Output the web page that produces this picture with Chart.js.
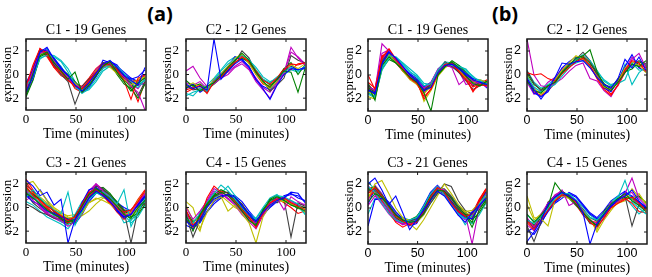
<!DOCTYPE html>
<html><head><meta charset="utf-8">
<script src="https://cdn.jsdelivr.net/npm/chart.js@4/dist/chart.umd.min.js"></script>
<style>
body{margin:0;background:#fff;width:652px;height:277px;overflow:hidden;position:relative;}
canvas{position:absolute;}
.lab{position:absolute;font:bold 20px "Open Sans",sans-serif;line-height:1;transform:translate(-50%,-50%);color:#000;}
</style></head><body>
<div class="lab" style="left:160px;top:14px">(a)</div>
<div class="lab" style="left:505px;top:14px">(b)</div>
<script>
// time points (minutes)
const times = [0,7,14,21,28,35,42,49,56,63,70,77,84,91,98,105,112,119];
const xTickValues = [0,50,100];
const yTickValues = [-2,0,2];
const panelTitles = ['C1 - 19 Genes','C2 - 12 Genes','C3 - 21 Genes','C4 - 15 Genes'];
const lineColors = ['#0000ff','#008000','#ff0000','#00bfbf','#bf00bf','#bfbf00','#404040'];

// (a) cluster C1 - 19 genes
const a_C1 = [
[-1.5,-0.2,1.9,2.3,1.3,0.5,-0.1,-0.9,-1.4,-0.7,0.1,0.9,1.2,0.6,-0.1,-0.5,-0.9,0.6],
[-1.8,0.1,1.6,1.9,1.0,0.3,-0.4,0.2,-1.5,-0.9,-0.1,0.7,1.1,0.2,-0.6,-1.4,-0.7,-0.3],
[-1.0,0.8,2.2,1.8,0.6,0.2,-0.5,-1.0,-1.2,-0.5,0.2,0.9,0.8,0.4,-0.5,-2.1,-0.3,0.0],
[-0.9,-0.3,1.4,1.6,1.5,1.1,0.2,-0.9,-1.6,-1.2,-0.4,0.5,0.8,0.7,0.1,-0.6,-0.8,-0.5],
[-1.2,0.3,1.8,2.0,1.1,0.4,-0.3,-0.9,-1.1,-0.6,0.1,0.6,1.0,0.3,-0.2,-1.0,-1.5,-3.0],
[-1.6,-0.2,1.7,1.9,1.2,0.2,-0.2,-0.7,-1.3,-0.9,0.3,0.8,0.6,0.1,-0.4,-0.9,-0.4,-0.2],
[-1.4,0.0,2.0,1.7,0.8,0.0,-0.6,-2.5,-1.0,-0.4,0.2,1.0,0.9,0.5,-0.3,-0.7,-1.8,-0.6],
[-0.7,0.4,2.1,2.0,1.4,0.6,-0.1,-0.7,-1.3,-1.0,-0.2,0.8,1.1,0.8,0.0,-0.4,-0.2,0.4],
[-1.9,-0.5,1.5,1.8,1.0,0.5,0.0,-0.6,-1.2,-0.7,0.2,0.9,0.9,0.0,-0.8,-1.2,-2.0,-0.8],
[-1.3,0.5,2.2,1.6,0.7,0.3,-0.2,-1.2,-1.5,-0.8,-0.1,0.7,1.0,0.6,-0.1,-0.6,-0.5,-0.1],
[-1.1,-0.1,1.6,2.1,1.3,0.7,-0.3,-1.1,-1.4,-1.0,0.0,0.6,0.7,0.4,-0.2,-0.8,-1.1,-0.4],
[-0.8,0.2,1.9,1.9,0.9,0.1,-0.4,-0.8,-1.2,-0.6,0.4,1.0,0.8,0.2,-0.4,-0.5,-0.9,-0.7],
[-1.5,0.0,1.8,2.0,1.1,0.2,-0.3,-1.0,-1.1,-0.7,0.0,0.6,0.9,0.5,-0.3,-1.0,-0.6,-0.3],
[-1.2,0.3,2.0,1.9,1.0,0.3,-0.2,-0.9,-1.3,-0.5,0.3,0.8,1.0,0.4,-0.1,-0.7,-0.8,-0.2],
[-1.7,-0.4,1.7,2.2,1.2,0.4,-0.1,-1.0,-1.5,-1.1,-0.1,1.2,1.0,0.7,0.2,-0.3,-0.6,0.0],
[-1.0,0.1,1.8,1.7,0.8,0.2,-0.5,-0.9,-1.4,-0.8,0.1,0.7,0.8,0.3,-0.4,-1.1,-0.9,-0.5],
[-1.4,0.6,2.1,1.5,0.6,-0.1,-0.4,-0.8,-1.0,-0.3,0.5,1.0,0.7,0.1,-0.5,-0.9,-2.3,-0.6],
[-0.6,-0.2,1.3,1.7,1.6,1.2,0.5,-0.6,-1.5,-1.3,-0.6,0.3,0.7,0.5,0.0,-0.4,-0.7,-0.9],
[-1.3,0.4,2.0,1.8,1.0,0.3,-0.3,-1.0,-1.2,-0.7,0.2,0.8,0.9,0.3,-0.2,-0.8,-1.2,-0.4]
];
// (a) cluster C2 - 12 genes
const a_C2 = [
[-0.8,-1.2,-1.0,-1.3,3.0,-0.4,0.3,0.9,1.3,0.7,-0.4,-1.2,-2.1,-0.9,0.0,0.5,0.4,0.6],
[-1.1,-0.9,-1.4,-1.0,-0.7,-0.1,0.6,1.2,1.8,1.2,0.2,-0.6,-1.1,-0.4,0.3,0.2,-1.5,0.5],
[-1.5,-1.2,-0.9,-1.6,-0.6,-0.2,0.5,1.0,1.5,1.1,0.3,-0.5,-0.8,-0.3,0.4,0.9,0.8,1.0],
[-1.6,-1.8,-1.2,-1.4,-0.5,0.3,0.9,1.3,1.6,1.3,0.4,-0.4,-0.7,-0.2,0.2,0.6,0.3,0.7],
[0.3,0.7,-0.3,-1.0,-0.8,-0.3,0.0,0.6,0.9,0.4,-0.6,-1.3,-2.0,-0.8,0.1,2.3,1.4,0.8],
[-1.0,-0.7,-1.1,-1.2,-0.4,0.1,0.7,1.4,1.7,0.9,0.0,-0.7,-1.2,-0.6,0.0,0.8,0.5,0.9],
[-0.9,-1.3,-1.2,-1.5,-0.6,-0.2,0.4,1.1,2.0,1.4,0.1,-0.5,-1.4,-0.9,-0.3,1.6,1.2,1.0],
[-1.2,-0.8,-1.5,-1.1,-0.5,0.0,0.7,1.5,1.2,0.6,-0.5,-1.0,-1.3,-0.6,0.3,0.7,0.4,0.5],
[-0.5,-1.0,-0.8,-1.3,-0.8,-0.3,0.3,1.0,1.4,1.0,0.3,-0.4,-0.9,-0.5,0.5,1.0,0.0,0.8],
[-1.3,-1.1,-1.0,-1.4,-0.4,0.0,0.6,1.2,1.6,1.0,0.0,-0.8,-1.0,-0.3,0.5,0.4,0.9,1.0],
[-1.8,-1.5,-1.3,-0.9,-0.3,0.4,1.1,1.5,1.3,1.2,0.6,-0.2,-0.6,-0.4,0.0,0.4,0.2,0.6],
[-0.7,-0.9,-0.6,-1.2,-0.7,-0.1,0.2,0.7,1.1,0.5,-0.3,-1.1,-1.5,-0.7,0.1,1.9,1.5,0.9]
];
// (a) cluster C3 - 21 genes
const a_C3 = [
[2.3,1.8,1.0,1.3,0.2,0.7,-3.0,-1.0,-0.2,0.8,1.4,1.0,0.5,-0.2,-0.8,-0.6,0.2,0.9],
[1.2,0.8,0.3,-0.2,-0.6,-0.9,-1.2,-1.0,0.1,1.1,1.6,1.2,0.7,0.1,-0.6,-0.9,0.0,0.6],
[1.8,1.0,0.6,0.1,-0.3,-0.7,-1.1,-0.8,0.3,1.3,1.5,1.0,0.4,-0.1,-0.4,-0.2,0.5,1.4],
[0.9,1.5,0.8,0.2,-0.2,-0.5,1.3,-1.5,-0.3,0.7,1.2,1.3,0.9,0.3,1.5,-1.6,-0.4,0.8],
[1.5,0.6,0.1,-0.5,-0.8,-1.1,-1.6,-1.2,-0.1,1.0,2.0,1.4,0.6,-0.1,-0.7,-0.5,0.4,1.2],
[2.0,2.2,1.4,0.6,0.0,-0.4,-0.8,-0.9,-0.5,0.4,0.8,0.6,0.3,-0.2,-0.6,-0.4,0.6,1.3],
[0.3,0.0,-0.4,-0.6,-0.9,-1.0,-1.2,-0.7,0.2,1.2,1.8,1.6,1.0,0.3,-0.3,-3.0,-0.2,0.4],
[1.0,0.5,0.2,-0.3,-0.5,-0.8,-1.0,-1.1,0.4,1.5,1.7,1.2,0.5,-0.3,-0.9,-0.6,0.3,1.0],
[1.6,1.1,0.7,0.2,-0.3,-0.7,-1.0,-1.3,-0.4,0.8,1.3,1.5,1.1,0.5,-0.2,-0.8,-0.5,0.7],
[2.1,1.3,0.5,-0.1,-0.5,-0.9,-1.3,-1.0,0.0,1.0,1.4,1.1,0.4,-0.4,-1.0,-0.3,0.7,1.5],
[1.4,0.9,0.4,-0.2,-0.7,-1.2,-1.5,-0.6,0.5,1.1,1.3,0.9,0.5,-0.1,-1.3,-1.1,-0.3,0.5],
[0.6,1.0,0.2,-0.4,-0.6,-0.9,-1.1,-0.9,0.2,1.4,1.9,1.3,0.7,0.0,-0.5,-0.2,0.5,1.1],
[1.7,1.2,0.9,0.4,-0.1,-0.6,-0.9,-0.8,-0.7,-0.3,0.3,0.8,0.7,0.2,-0.3,-0.7,0.0,0.4],
[1.9,1.4,0.8,0.2,-0.3,-0.8,-1.0,-1.2,-0.2,0.9,1.6,1.4,0.8,0.2,-0.4,-0.5,0.2,0.9],
[1.1,0.7,1.5,0.6,-0.4,-0.8,-0.9,-1.4,-0.6,0.5,1.2,1.1,0.9,0.4,0.0,-0.3,0.1,0.6],
[1.3,0.9,0.3,-0.1,-0.5,-1.0,-1.4,-1.2,-0.3,0.7,1.5,1.7,1.2,0.4,-0.5,-1.0,-0.6,0.3],
[2.4,1.5,0.7,0.0,-0.6,-1.0,-1.3,-0.9,0.1,1.2,1.7,1.0,0.3,-0.3,-0.8,-0.4,0.4,1.2],
[0.5,0.2,-0.3,-0.8,-1.1,-1.4,-1.8,-1.0,0.0,0.9,1.3,1.0,0.6,0.0,-0.6,-1.3,-0.8,0.2],
[1.0,1.2,0.0,-0.6,-0.9,-1.2,-1.3,-0.8,0.3,1.4,2.0,1.5,0.8,0.1,-0.5,-0.6,0.3,1.0],
[1.5,1.0,0.6,0.3,-0.2,-0.5,-0.7,-0.6,-0.1,0.4,0.7,0.9,0.6,0.0,-0.6,-0.9,-0.2,0.5],
[1.2,0.4,-0.1,-0.5,-0.8,-1.1,-1.0,-0.7,0.1,1.1,1.5,1.3,0.9,0.4,-0.2,-0.3,0.2,0.8]
];
// (a) cluster C4 - 15 genes
const a_C4 = [
[-1.2,-1.6,-1.0,0.0,0.7,1.0,1.1,0.9,0.1,-0.6,-1.2,-0.4,0.2,0.6,0.8,1.3,1.2,0.4],
[-0.6,-2.0,-0.6,0.3,1.0,1.3,1.0,0.4,-0.3,-1.1,-1.5,-0.2,0.6,0.9,0.6,0.2,0.0,-0.3],
[-0.2,-1.5,-0.9,0.8,1.8,1.3,1.0,0.5,-0.2,-0.8,-1.7,-0.5,0.4,0.7,0.8,0.4,0.1,-0.2],
[-0.9,-1.3,-0.5,0.4,1.2,1.9,1.4,0.7,0.0,-0.7,-1.0,-0.1,0.5,1.0,0.9,0.6,0.3,-0.6],
[0.0,-1.0,-0.3,0.5,1.4,1.1,0.8,0.3,-0.4,-1.0,-1.3,-0.6,0.3,0.8,-0.2,0.9,0.5,0.2],
[0.5,0.0,-1.8,-0.4,0.6,0.9,-0.3,0.2,-0.5,-1.3,-3.0,-0.8,0.2,0.6,0.5,0.3,0.0,-0.4],
[-0.7,-2.5,-1.1,0.1,0.9,1.2,1.3,0.8,0.3,-0.6,-1.4,-0.3,0.6,0.8,0.7,-2.5,0.4,0.1],
[-1.5,-1.8,-1.2,-0.3,0.5,0.9,1.0,0.8,0.2,-0.5,-1.1,-0.6,0.0,0.5,0.9,1.1,1.0,0.5],
[-0.3,-1.2,-0.7,0.2,1.1,1.5,1.2,0.6,-0.1,-0.9,-1.6,-0.3,0.7,1.0,0.6,0.3,-0.1,0.0],
[-0.8,-1.7,-0.8,0.1,0.9,1.4,1.2,0.6,-0.3,-1.0,-1.2,-0.2,0.5,0.8,0.4,0.0,-0.5,-0.3],
[-1.0,-1.4,-1.2,0.0,0.8,1.2,1.8,1.0,0.2,-0.5,-0.9,0.0,0.8,1.1,0.5,0.3,0.0,-0.5],
[-0.4,-1.9,-0.4,0.6,1.6,1.2,0.7,0.2,-0.6,-1.2,-1.8,-0.7,0.3,0.7,0.9,0.5,0.2,0.3],
[0.2,-1.1,-2.0,0.2,0.9,1.0,0.5,0.0,-0.3,-0.9,-1.4,-0.4,0.4,0.9,0.7,0.4,0.1,-0.1],
[-0.5,-1.3,-0.6,0.4,1.2,0.8,1.1,0.7,0.0,-0.8,-1.1,-0.5,0.7,0.4,0.8,0.6,0.2,0.0],
[-1.1,-1.5,-1.3,-0.4,0.3,0.8,1.1,1.0,0.5,-0.3,-1.0,-0.7,0.1,0.6,1.0,1.2,0.8,0.6]
];
// (b) cluster C1 - 19 genes
const b_C1 = [
[-1.2,-1.6,0.9,1.9,1.4,0.7,0.0,-0.5,-1.3,-1.0,0.2,0.8,0.9,0.5,0.0,-0.4,-0.6,-0.8],
[-0.9,-2.1,0.8,1.5,1.0,0.4,-0.2,-0.6,-1.5,-3.0,0.0,0.7,1.1,0.6,-0.1,-0.7,-0.9,-0.5],
[0.0,-1.2,1.4,2.2,1.3,0.5,-0.3,-0.7,-1.8,-1.2,0.1,0.9,1.0,0.3,-0.4,-1.3,-0.8,-0.9],
[-1.5,-1.8,0.6,1.6,1.5,0.9,0.3,-0.2,-0.9,-0.7,0.4,1.0,0.8,0.7,0.5,-0.2,-0.5,-0.7],
[-1.0,-1.3,2.6,2.0,1.2,0.6,-0.1,-0.5,-1.1,-0.6,0.5,0.9,0.6,-0.8,-0.3,-0.5,-0.7,-1.0],
[-1.8,-2.0,0.7,1.7,1.1,0.3,-0.4,-0.8,-1.6,-0.9,0.2,0.8,0.9,0.4,-0.3,-0.6,-0.4,-0.6],
[-0.8,-1.4,1.2,1.8,1.0,0.4,-0.2,-0.6,-1.2,-0.8,0.3,1.1,0.7,0.2,-0.5,-1.2,-0.9,-0.7],
[-1.3,-1.5,1.0,2.0,1.3,0.6,0.1,-0.3,-1.0,-0.6,0.4,0.9,1.0,0.6,0.1,-0.3,-0.5,-1.1],
[-0.7,-1.7,1.1,1.6,1.2,0.5,-0.1,-0.4,-1.3,-0.9,0.0,0.7,1.2,0.8,0.2,-0.4,-0.8,-0.6],
[-1.1,-1.3,1.5,2.1,1.0,0.3,-0.2,-0.6,-2.0,-1.1,0.3,0.9,0.8,0.3,-0.2,-1.0,-0.7,-0.4],
[-1.6,-1.9,0.4,1.4,1.5,1.0,0.5,0.0,-0.7,-0.8,0.2,1.0,0.9,0.8,0.4,-0.1,-0.6,-0.9],
[-1.0,-1.2,1.3,1.9,1.1,0.4,-0.3,-0.7,-1.4,-0.7,0.4,0.8,0.7,0.3,-0.3,-0.8,-0.6,-0.5],
[-1.4,-1.6,0.9,1.7,1.3,0.6,0.0,-0.4,-2.2,-1.3,-0.1,0.6,1.0,0.5,0.0,-0.5,-0.9,-0.7],
[-1.2,-1.5,1.0,1.8,1.1,0.4,-0.3,-0.5,-1.1,-0.8,0.2,0.9,0.8,0.4,-0.2,-0.9,-0.6,-0.8],
[-0.9,-1.4,1.3,2.0,1.2,0.5,0.0,-0.4,-1.2,-0.9,0.3,1.0,0.9,0.5,-0.1,-0.5,-0.7,-0.6],
[-1.5,-1.8,0.5,1.3,1.0,0.5,0.0,-0.5,-1.4,-1.0,0.1,0.7,0.9,0.6,0.0,-0.6,-0.8,-0.7],
[-0.6,-1.1,1.6,1.9,1.1,0.3,-0.2,-0.8,-1.5,-0.8,0.3,0.8,0.8,0.2,-0.3,-1.4,-0.5,-0.9],
[-1.3,-1.6,0.7,1.5,1.4,0.8,0.2,-0.1,-0.9,-0.7,0.5,1.1,1.0,0.6,0.3,-0.3,-0.4,-0.6],
[-1.1,-1.4,1.8,2.1,1.2,0.5,-0.2,-0.5,-1.3,-0.9,0.2,0.8,0.7,0.3,-0.8,-0.6,-0.7,-0.9]
];
// (b) cluster C2 - 12 genes
const b_C2 = [
[-0.3,-1.2,-2.0,-1.2,-0.2,1.0,0.9,1.1,1.2,0.6,-0.2,-0.8,-1.1,-0.3,1.3,0.6,1.5,0.4],
[-0.5,-1.3,-1.5,-0.9,-0.6,0.2,0.8,1.4,1.6,2.1,0.3,-0.9,-1.3,-0.6,0.2,0.9,0.7,1.2],
[0.2,0.0,0.1,-0.3,-0.5,0.1,0.6,1.1,1.4,0.8,-0.3,-1.2,-1.7,-0.8,0.4,1.2,1.0,0.3],
[-0.1,-1.0,-1.4,-1.1,-0.8,-0.1,0.6,1.3,1.7,1.2,0.4,-0.5,-0.9,-0.7,-0.4,1.0,0.4,0.5],
[3.0,0.0,-0.9,-1.0,-0.7,-0.3,0.3,0.8,1.0,-0.3,-0.5,-1.3,-1.8,-0.8,0.3,1.3,1.8,0.6],
[0.0,-1.1,-1.6,-1.2,-0.4,0.4,1.0,1.6,1.3,0.7,-0.1,-1.0,-1.2,-0.6,0.6,1.1,0.8,0.2],
[0.3,-0.7,-1.3,-1.0,-0.5,0.3,0.9,1.3,1.9,1.2,0.2,-0.8,-1.0,-0.4,0.5,0.8,1.2,0.9],
[-0.4,-1.5,-1.8,-1.4,-0.4,0.6,1.1,1.5,1.3,0.7,-0.1,-1.1,-1.4,-0.5,0.7,1.7,0.6,0.3],
[0.1,-0.8,-1.2,-0.9,-0.6,0.2,0.7,1.2,1.5,1.0,0.1,-0.7,-1.2,-0.3,0.3,0.5,1.1,0.8],
[-0.2,-1.4,-1.7,-1.3,-0.7,0.1,0.8,1.3,1.6,1.1,0.0,-1.0,-1.6,-0.9,0.2,1.1,0.9,0.6],
[0.4,-0.6,-1.1,-0.8,-0.3,0.3,0.7,1.0,1.2,0.9,0.3,-0.4,-0.8,-0.6,0.9,-0.8,0.2,0.7],
[-0.6,-1.6,-1.3,-0.6,-0.2,0.5,0.9,1.1,1.4,0.8,-0.2,-1.0,-1.3,-0.4,0.4,1.5,0.6,1.0]
];
// (b) cluster C3 - 21 genes
const b_C3 = [
[2.0,2.5,1.5,0.3,1.0,-0.4,-1.8,-1.0,-0.2,0.6,1.4,1.0,0.2,-0.6,-1.2,-0.4,0.2,0.8],
[0.5,1.2,0.9,0.2,-0.6,-1.0,-1.2,-1.1,-0.5,0.7,1.5,1.4,0.8,0.0,-0.5,-1.6,-0.2,0.7],
[1.2,1.7,1.0,0.1,-0.7,-1.1,-1.4,-1.2,-0.3,0.9,1.7,1.3,0.4,-0.3,-0.7,-0.5,0.5,1.5],
[1.8,1.3,0.4,-0.4,-1.0,-1.2,-1.0,-0.8,0.1,1.2,1.8,1.1,0.3,-0.5,-0.9,-0.6,0.3,1.1],
[0.2,1.0,0.5,-0.2,-0.9,-1.3,-1.3,-1.1,-0.5,0.6,1.6,1.5,0.7,0.0,-0.5,-3.0,0.0,1.2],
[0.8,2.0,2.3,1.2,0.0,-0.8,-1.3,-1.8,-1.0,0.0,1.0,2.0,1.2,0.3,-0.3,-0.2,0.4,1.0],
[1.4,1.6,0.9,0.1,-0.6,-1.0,-1.1,-0.9,-0.5,0.4,1.2,2.0,1.8,0.6,-0.2,-0.5,0.2,0.9],
[-1.5,0.7,0.8,0.3,-0.5,-1.0,-1.5,-1.3,-0.2,0.8,1.5,1.2,0.5,-0.3,-0.8,-0.9,0.1,1.3],
[1.5,1.8,1.1,0.3,-0.8,-1.2,-1.0,-0.7,0.0,1.0,1.7,1.4,0.6,-0.1,-0.6,-1.2,0.4,1.4],
[0.9,1.4,0.6,-0.3,-1.2,-1.6,-1.3,-1.1,-0.4,0.7,1.5,1.2,0.4,-0.3,-0.7,-0.9,0.6,1.6],
[2.2,1.5,0.8,-0.1,-0.8,-1.1,-1.2,-0.9,-0.1,1.0,1.6,1.3,0.5,-0.4,-1.4,-0.7,0.1,0.8],
[0.6,1.9,1.2,0.0,-1.0,-1.4,-1.2,-1.0,-0.2,1.1,1.8,1.2,0.3,-0.6,-1.0,-0.8,0.3,1.0],
[1.1,1.3,0.7,0.0,-0.7,-0.9,-1.0,-1.2,-0.6,0.5,1.3,1.1,0.6,0.0,-0.4,-0.6,0.2,0.9],
[1.7,1.2,0.6,-0.2,-0.9,-1.1,-1.2,-1.0,-0.3,0.8,1.4,1.5,0.9,0.1,-0.5,-0.7,0.0,0.6],
[0.3,1.6,1.0,0.5,-0.3,-0.9,-1.1,-0.8,0.2,1.3,1.9,1.3,0.4,-0.4,-0.9,-0.3,0.5,1.1],
[1.3,1.4,0.8,-0.1,-0.7,-1.1,-1.3,-1.0,-0.3,0.6,1.4,1.4,0.8,0.1,-0.3,-1.0,-0.4,0.5],
[1.6,1.8,0.9,0.0,-0.8,-1.2,-1.4,-1.0,-0.2,0.9,1.6,1.2,0.5,-0.2,-0.6,-0.5,0.7,1.6],
[-0.5,0.8,0.7,0.1,-0.6,-0.8,-1.0,-1.2,-0.6,0.4,1.2,1.3,0.9,0.2,-0.8,-1.3,-0.6,0.4],
[1.9,1.1,0.3,-0.5,-1.1,-1.3,-1.1,-0.9,0.0,1.2,1.7,1.1,0.4,-0.2,-0.7,-0.6,0.6,1.3],
[0.7,1.5,1.0,0.4,-0.4,-0.8,-1.1,-1.0,-0.4,0.6,1.5,1.3,0.7,0.0,-0.5,-0.6,0.3,1.1],
[1.0,1.3,0.6,-0.1,-0.7,-1.0,-1.2,-0.9,-0.1,0.9,1.6,1.6,1.0,0.2,-0.4,-0.7,0.1,0.8]
];
// (b) cluster C4 - 15 genes
const b_C4 = [
[-2.8,-2.0,-1.0,0.3,0.9,1.3,1.0,0.6,-0.4,-3.0,-1.3,-0.6,0.2,0.7,1.0,1.5,0.6,0.0],
[-0.5,-1.2,-0.6,0.1,2.1,1.3,0.9,0.3,-0.4,-1.0,-1.5,-0.5,0.3,0.8,1.2,0.6,0.2,-0.3],
[-1.2,-1.8,-1.0,-0.2,0.6,1.1,1.0,0.5,-0.3,-1.2,-1.6,-0.8,0.0,0.4,0.7,0.9,0.4,-0.2],
[-1.0,-1.3,-0.7,0.0,0.8,1.2,1.2,0.6,-0.2,-0.8,-1.0,-0.4,0.3,0.9,2.3,0.5,0.0,-0.5],
[-0.8,-1.6,-0.5,0.4,1.0,1.5,0.2,0.5,-0.5,-1.1,-1.3,-0.6,0.5,0.5,1.2,2.5,0.8,0.2],
[1.0,-0.8,-0.9,-1.5,0.7,1.0,0.8,0.4,-0.2,-0.9,-2.0,-1.0,-0.2,0.5,1.1,0.7,1.2,0.3],
[-1.5,-2.8,-1.2,0.5,1.0,1.3,1.1,0.6,-0.1,-0.8,-1.1,-0.3,0.4,0.8,1.0,-1.5,0.3,0.0],
[-1.8,-2.2,-1.3,-0.2,0.5,1.0,1.2,0.9,0.2,-0.5,-0.9,-0.5,0.1,0.7,1.3,1.0,0.5,0.1],
[-0.9,-1.4,-0.8,0.2,0.9,1.4,1.0,0.4,-0.5,-1.2,-1.4,-0.3,0.4,0.6,0.9,0.7,1.0,0.4],
[-1.1,-1.5,-0.7,0.1,0.7,1.2,0.9,0.3,-0.6,-1.1,-1.2,-0.6,0.2,0.5,0.8,0.4,-0.3,-0.4],
[-0.6,-1.1,-0.9,-0.1,0.6,1.0,1.1,0.7,0.1,-0.6,-1.0,-0.4,0.5,1.0,0.9,0.2,-0.5,0.0],
[-1.4,-1.9,-1.1,0.3,1.1,1.4,1.0,0.6,-0.2,-0.9,-1.5,-0.9,0.1,0.6,1.1,1.3,0.4,-0.2],
[0.3,-1.0,-0.5,0.2,0.8,1.1,0.9,0.4,-0.3,-1.0,-1.8,-0.7,0.0,0.4,0.6,1.6,0.9,0.5],
[-1.0,-1.7,-0.8,0.4,0.9,1.2,0.8,0.2,-0.4,-1.3,-1.4,-0.4,0.3,0.7,1.1,0.8,0.2,-0.1],
[-2.0,-1.6,-1.2,-0.3,0.4,0.8,1.3,1.0,0.3,-0.4,-0.8,-0.2,0.6,1.0,1.4,0.9,0.4,0.0]
];

Chart.defaults.color = '#000';
Chart.defaults.animation = false;

const framePlugin = {
  id: 'frame',
  afterDraw(chart) {
    const {ctx, chartArea: a, scales: {x, y}} = chart;
    ctx.save();
    ctx.strokeStyle = '#1a1a1a';
    ctx.lineWidth = 1.5;
    ctx.strokeRect(a.left, a.top, a.right - a.left, a.bottom - a.top);
    ctx.lineWidth = 1;
    ctx.beginPath();
    xTickValues.forEach(v => {
      const px = x.getPixelForValue(v);
      ctx.moveTo(px, a.bottom); ctx.lineTo(px, a.bottom - 3);
      ctx.moveTo(px, a.top); ctx.lineTo(px, a.top + 3);
    });
    yTickValues.forEach(v => {
      const py = y.getPixelForValue(v);
      ctx.moveTo(a.left, py); ctx.lineTo(a.left + 3, py);
      ctx.moveTo(a.right, py); ctx.lineTo(a.right - 3, py);
    });
    ctx.stroke();
    ctx.restore();
  }
};

const Y_AXIS_W = 26, TITLE_H = 20, X_AXIS_H = 33;
const SERIF = '"Liberation Serif", "Times New Roman", serif';
const SANS = '"Liberation Sans", Arial, sans-serif';

function makePanel(genes, title, rect, tickFamily, yPad) {
  const [L, T, R, B] = rect;
  const cv = document.createElement('canvas');
  const w = (R - L) + Y_AXIS_W + 4;
  const h = (B - T) + TITLE_H + X_AXIS_H;
  cv.width = w; cv.height = h;
  cv.style.left = (L - Y_AXIS_W) + 'px';
  cv.style.top = (T - TITLE_H) + 'px';
  cv.style.width = w + 'px'; cv.style.height = h + 'px';
  document.body.appendChild(cv);
  new Chart(cv, {
    type: 'line',
    data: {
      datasets: genes.map((g, i) => ({
        data: g.map((v, k) => ({x: times[k], y: v})),
        borderColor: lineColors[i % lineColors.length],
        borderWidth: 1.1,
        pointRadius: 0,
        tension: 0,
        fill: false
      }))
    },
    options: {
      responsive: false,
      animation: false,
      layout: {padding: {left: 0, right: 4, top: 0, bottom: 0}},
      plugins: {
        legend: {display: false},
        tooltip: {enabled: false},
        title: {display: true, text: title, color: '#000', fullSize: false,
          font: {family: SERIF, size: 14, weight: 'normal'},
          padding: {top: 2.6, bottom: 0.6}}
      },
      scales: {
        x: {
          type: 'linear', min: 0, max: 120,
          afterBuildTicks: s => { s.ticks = xTickValues.map(v => ({value: v})); },
          afterFit: s => { s.height = X_AXIS_H; },
          grid: {display: false, drawTicks: false},
          border: {display: false},
          ticks: {padding: 2, maxRotation: 0, autoSkip: false, color: '#000',
            font: {family: tickFamily, size: tickFamily === SANS ? 12.5 : 13}},
          title: {display: true, text: 'Time (minutes)', color: '#000',
            font: {family: SERIF, size: 14}, padding: {top: 0, bottom: 0}}
        },
        y: {
          type: 'linear', min: -3, max: 3,
          afterBuildTicks: s => { s.ticks = yTickValues.map(v => ({value: v})); },
          afterFit: s => { s.width = Y_AXIS_W; },
          grid: {display: false, drawTicks: false},
          border: {display: false},
          ticks: {padding: yPad, color: '#000',
            font: {family: tickFamily, size: tickFamily === SANS ? 12.5 : 13}},
          title: {display: true, text: 'expression', color: '#000',
            font: {family: SERIF, size: 13}, padding: {top: 0, bottom: 0}}
        }
      }
    },
    plugins: [framePlugin]
  });
}

makePanel(a_C1, panelTitles[0], [26, 39, 146, 110], SERIF, 7);
makePanel(a_C2, panelTitles[1], [186, 39, 306, 110], SERIF, 7);
makePanel(a_C3, panelTitles[2], [26, 172, 146, 243], SERIF, 7);
makePanel(a_C4, panelTitles[3], [186, 172, 306, 243], SERIF, 7);
makePanel(b_C1, panelTitles[0], [368, 39, 488, 111], SANS, 6);
makePanel(b_C2, panelTitles[1], [527, 39, 647, 111], SANS, 6);
makePanel(b_C3, panelTitles[2], [368, 172, 487, 244], SANS, 6);
makePanel(b_C4, panelTitles[3], [527, 172, 647, 244], SANS, 6);
</script>
</body></html>
